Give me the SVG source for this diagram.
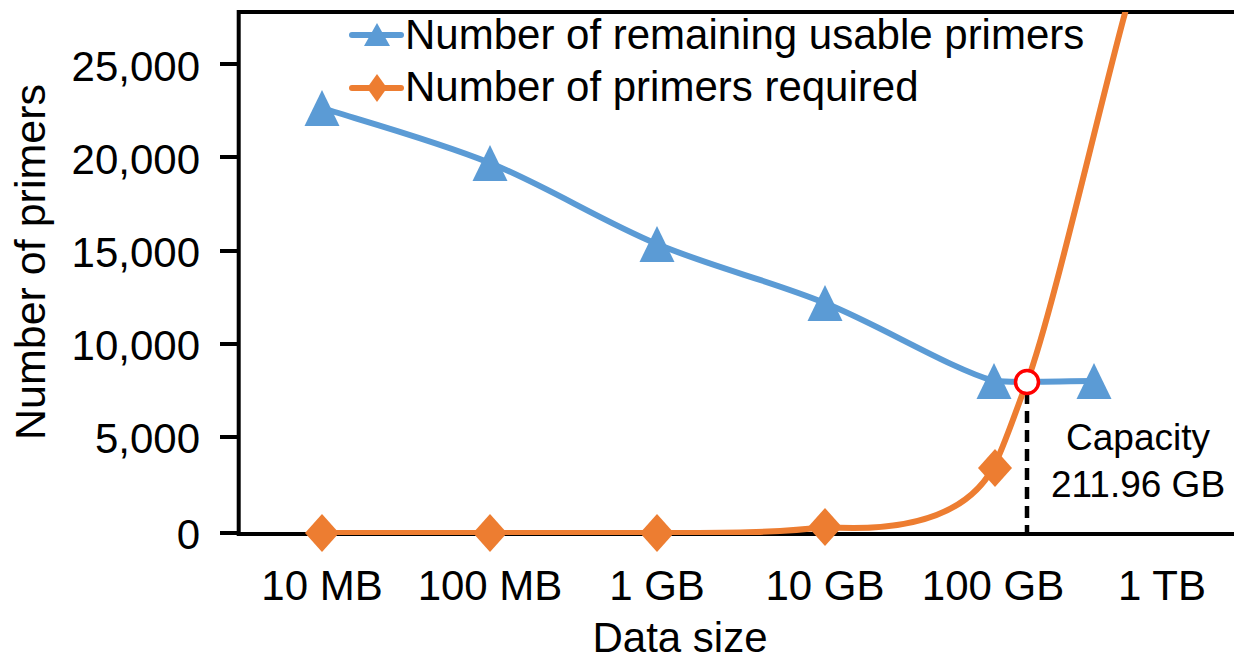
<svg xmlns="http://www.w3.org/2000/svg" width="1234" height="660" viewBox="0 0 1234 660">
  <style>
    text { font-family: "Liberation Sans", Arial, sans-serif; fill: #000; }
    .tick { font-size: 42px; text-anchor: end; }
    .xl { font-size: 42px; text-anchor: middle; }
    .ttl { font-size: 43px; text-anchor: middle; }
    .leg { font-size: 42px; }
    .cap { font-size: 37px; text-anchor: middle; }
    .axis { stroke: #000; stroke-width: 4; fill: none; }
    .blue { stroke: #5B9BD5; stroke-width: 6; fill: none; stroke-linecap: round; stroke-linejoin: round; }
    .orange { stroke: #ED7D31; stroke-width: 6; fill: none; stroke-linecap: round; stroke-linejoin: round; }
    .tri { fill: #5B9BD5; }
    .dia { fill: #ED7D31; }
  </style>
  <defs>
    <clipPath id="plotclip"><rect x="238" y="12" width="996" height="523"/></clipPath>
    <path id="triM" d="M0,-18 L17.5,18 L-17.5,18 Z"/>
    <path id="diaM" d="M0,-19 L17,0 L0,19 L-17,0 Z"/>
  </defs>
  <rect x="0" y="0" width="1234" height="660" fill="#fff"/>

  <g id="axes">
    <path class="axis" d="M1234,12 L238.7,12 L238.7,534 L1234,534"/>
    <path class="axis" d="M220,64 H238.7 M220,157 H238.7 M220,251 H238.7 M220,344 H238.7 M220,437 H238.7 M220,533 H238.7"/>
  </g>

  <g id="y-labels">
    <text class="tick" x="200" y="81">25,000</text>
    <text class="tick" x="200" y="174">20,000</text>
    <text class="tick" x="200" y="267">15,000</text>
    <text class="tick" x="200" y="360">10,000</text>
    <text class="tick" x="200" y="453">5,000</text>
    <text class="tick" x="200" y="549">0</text>
    <text class="ttl" transform="translate(45,262) rotate(-90)">Number of primers</text>
  </g>

  <g id="x-labels">
    <text class="xl" x="322" y="600">10 MB</text>
    <text class="xl" x="490" y="600">100 MB</text>
    <text class="xl" x="657" y="600">1 GB</text>
    <text class="xl" x="825" y="600">10 GB</text>
    <text class="xl" x="993" y="600">100 GB</text>
    <text class="xl" x="1162" y="600">1 TB</text>
    <text class="xl" x="680" y="652">Data size</text>
  </g>

  <g id="connectors">
    <line x1="1027" y1="392" x2="1027" y2="533" stroke="#000" stroke-width="4.5" stroke-dasharray="12,7"/>
    <path id="blue-line" class="blue" d="M322,108 C350,117.2 434.2,140.3 490,163 C545.8,185.7 601.2,220.7 657,244 C712.8,267.3 768.8,280.2 825,303 C881.2,325.8 949.3,368 994,381 C1027,383 1060,381 1093,381"/>
    <g clip-path="url(#plotclip)">
      <path id="orange-line" class="orange" d="M322,533 C378,533 434,533 490,533 C546,533 601,533 657,533 C720,533 780,533 825,527 C870,530 958,531 993,468 C1003,450 1015,413 1027,382 C1052,317 1108,70 1130,-5"/>
    </g>
  </g>

  <g id="series-blue">
    <use href="#triM" class="tri" x="322" y="108"/>
    <use href="#triM" class="tri" x="490" y="163"/>
    <use href="#triM" class="tri" x="657" y="244"/>
    <use href="#triM" class="tri" x="825" y="303"/>
    <use href="#triM" class="tri" x="994" y="381"/>
    <use href="#triM" class="tri" x="1094" y="381"/>
  </g>

  <g id="series-orange">
    <use href="#diaM" class="dia" x="322" y="533"/>
    <use href="#diaM" class="dia" x="490" y="533"/>
    <use href="#diaM" class="dia" x="657" y="533"/>
    <use href="#diaM" class="dia" x="825" y="527"/>
    <use href="#diaM" class="dia" x="995" y="468"/>
  </g>

  <g id="capacity-marker">
    <circle cx="1027" cy="382" r="11.5" fill="#fff" stroke="#FF0000" stroke-width="3.5"/>
    <text class="cap" x="1138" y="450">Capacity</text>
    <text class="cap" x="1138" y="497">211.96 GB</text>
  </g>

  <g id="legend">
    <line class="blue" x1="352" y1="35" x2="401" y2="35"/>
    <path class="tri" d="M377,23 L390,46 L364,46 Z"/>
    <text class="leg" x="405" y="49">Number of remaining usable primers</text>
    <line class="orange" x1="352" y1="88" x2="401" y2="88"/>
    <path class="dia" d="M377,74 L387,88 L377,102 L367,88 Z"/>
    <text class="leg" x="405" y="101">Number of primers required</text>
  </g>
</svg>
